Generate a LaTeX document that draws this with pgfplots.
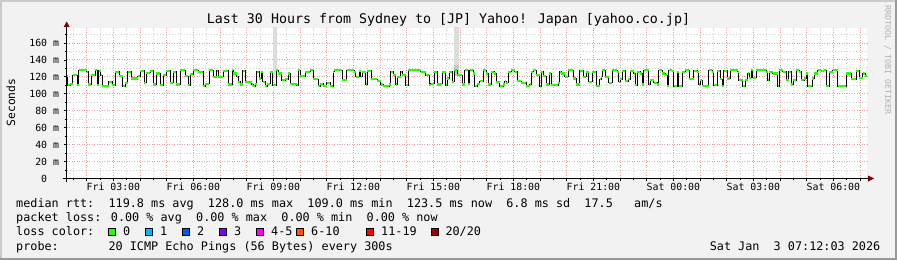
\documentclass[border=0pt]{standalone}
\usepackage{pgfplots}
\pgfplotsset{compat=1.18}
\usepackage{pgfplotstable}
\usepackage{fontspec}
\setmainfont{DejaVu Sans Mono}
\definecolor{bg}{HTML}{F2F2F2}
\definecolor{shadeA}{HTML}{CBCBCB}
\definecolor{shadeB}{HTML}{999999}
\definecolor{arrowred}{HTML}{7F0000}
\definecolor{mgrid}{HTML}{F09A9A}
\definecolor{ngrid}{HTML}{CFCFCF}
\definecolor{smoke}{HTML}{DDDDDD}
\definecolor{smokeb}{HTML}{C8C8C8}
\definecolor{medgreen}{HTML}{26FF00}
\definecolor{c1}{HTML}{00B8FF}
\definecolor{c2}{HTML}{0059FF}
\definecolor{c3}{HTML}{7E00FF}
\definecolor{c4}{HTML}{FF00FF}
\definecolor{c5}{HTML}{FF5500}
\definecolor{c6}{HTML}{FF0000}
\definecolor{c7}{HTML}{A10000}

\pgfplotstableread{
t v
1.25 121
1.29 110
1.38 112
1.48 122
1.64 110
1.70 128
2.00 126
2.05 111
2.17 122
2.32 128
2.39 110
2.45 127
2.52 122
2.58 109
2.83 114
2.95 110
3.07 126
3.22 121
3.35 109
3.45 113
3.54 126
3.67 118
3.91 121
4.00 127
4.16 113
4.23 125
4.38 127
4.49 111
4.60 124
4.75 110
4.86 122
4.98 127
5.13 113
5.24 126
5.35 111
5.50 128
5.69 121
5.80 110
5.88 123
5.99 128
6.18 126
6.37 109
6.44 112
6.60 128
6.75 120
6.88 127
6.94 120
7.12 127
7.31 111
7.46 128
7.50 124
7.63 120
7.69 114
7.75 111
7.85 127
7.94 114
8.19 111
8.25 109
8.31 112
8.38 126
8.47 118
8.54 126
8.60 114
8.69 109
8.77 112
8.88 126
8.98 110
9.10 128
9.19 124
9.31 116
9.44 117
9.56 124
9.63 112
9.88 110
9.94 128
10.00 121
10.19 126
10.38 128
10.50 117
10.69 109
10.75 112
10.87 109
11.00 113
11.13 109
11.25 126
11.28 128
11.59 116
11.75 128
12.03 126
12.09 120
12.21 127
12.28 120
12.34 126
12.46 111
12.52 127
12.67 117
12.90 115
13.03 111
13.12 109
13.34 111
13.40 126
13.50 122
13.59 111
13.65 120
13.78 126
13.84 122
13.96 110
14.05 128
14.53 126
14.71 122
14.84 110
14.90 112
15.03 126
15.15 111
15.28 112
15.34 126
15.46 110
15.52 118
15.59 126
15.71 114
15.78 128
15.90 122
16.09 111
16.18 128
16.30 112
16.36 128
16.49 124
16.55 109
16.65 112
16.74 115
16.86 128
16.99 124
17.05 111
17.17 126
17.28 124
17.36 114
17.49 109
17.61 111
17.68 115
17.74 113
17.80 126
17.92 128
18.05 126
18.15 115
18.30 113
18.49 109
18.61 111
18.67 126
18.74 128
18.86 122
18.99 109
19.05 126
19.11 121
19.24 111
19.34 124
19.42 110
19.68 113
19.74 126
19.80 124
19.93 120
20.05 128
20.24 118
20.36 111
20.49 127
20.61 120
20.74 126
20.83 114
20.95 126
21.11 109
21.24 117
21.30 120
21.33 128
21.45 120
21.58 113
21.70 128
21.89 126
21.95 114
22.01 117
22.08 127
22.20 115
22.30 117
22.39 127
22.51 124
22.57 110
22.64 126
22.76 124
22.83 111
22.89 128
23.08 111
23.14 116
23.26 113
23.39 111
23.45 128
23.58 124
23.70 122
23.76 109
23.83 128
23.95 127
24.01 109
24.14 126
24.20 109
24.33 126
24.45 128
24.60 117
24.76 127
24.89 126
24.95 111
25.01 116
25.08 109
25.33 128
25.45 126
25.51 110
25.64 127
25.76 117
25.83 109
25.89 127
26.01 118
26.14 128
26.41 126
26.45 116
26.60 109
26.70 116
26.79 124
26.85 119
26.91 128
26.98 119
27.10 128
27.48 126
27.54 116
27.60 126
27.73 124
27.91 109
27.97 128
28.10 126
28.23 116
28.33 126
28.41 111
28.50 116
28.60 128
28.72 126
28.79 116
28.91 118
28.98 124
29.04 109
29.20 118
29.29 124
29.41 128
29.54 127
29.66 128
29.73 109
29.85 126
29.98 128
30.16 109
30.48 124
30.66 117
30.85 127
30.97 119
31.10 124
31.20 121
31.26 121
}\med

\begin{document}
\begin{tikzpicture}
\fill[bg] (0,0) rectangle (897pt,260pt);
\useasboundingbox (0,0) rectangle (897pt,260pt);
\fill[shadeA] (0,258pt) rectangle (897pt,260pt);
\fill[shadeA] (0,0) rectangle (2pt,260pt);
\fill[shadeB] (0,0) rectangle (897pt,2pt);
\fill[shadeB] (895pt,0) rectangle (897pt,260pt);

\begin{axis}[
  at={(66.7pt,81.5pt)}, anchor=south west,
  scale only axis, width=800.3pt, height=150.8pt,
  xmin=1.25, xmax=31.26, ymin=0, ymax=178,
  axis line style={draw=none},
  axis background/.style={fill=white},
  xtick={3,6,...,30},
  xticklabels={Fri 03:00,Fri 06:00,Fri 09:00,Fri 12:00,Fri 15:00,Fri 18:00,Fri 21:00,Sat 00:00,Sat 03:00,Sat 06:00},
  extra x ticks={2,4,5,7,8,10,11,13,14,16,17,19,20,22,23,25,26,28,29,31},
  extra x tick labels={},
  minor xtick={1.5,2.5,...,30.5},
  ytick={0,20,...,160},
  yticklabels={0\phantom{~m},20 m,40 m,60 m,80 m,100 m,120 m,140 m,160 m},
  minor ytick={10,30,...,170},
  grid=both,
  major grid style={draw=mgrid, dash pattern=on 1pt off 1.5pt, line width=0.8pt},
  minor grid style={draw=ngrid, dash pattern=on 1pt off 2pt, line width=0.8pt},
  tick pos=left, tick align=outside,
  major tick length=3pt, minor tick length=2pt,
  tick style={black, line width=0.7pt},
  xticklabel style={font=\fontsize{9.85}{11}\selectfont, anchor=base, inner sep=0pt, yshift=-9pt},
  yticklabel style={font=\fontsize{9.85}{11}\selectfont, anchor=east, inner sep=0pt, xshift=-4.5pt},
]
\addplot[fill=smoke, draw=none] coordinates {(8.99,122) (8.99,200) (9.15,200) (9.15,122)} -- cycle;
\addplot[fill=smoke, draw=none] coordinates {(15.79,121) (15.79,200) (15.95,200) (15.95,121)} -- cycle;
\addplot[fill=smokeb, draw=none] coordinates {(15.79,121) (15.79,134) (15.95,134) (15.95,121)} -- cycle;
\addplot[black, line width=0.9pt, const plot] table[x=t,y=v]{\med};
\addplot[medgreen, line width=2.2pt, jump mark left] table[x=t,y=v]{\med};
\end{axis}

\draw[black, line width=1pt] (63.3pt,81.5pt) -- (868pt,81.5pt);
\fill[arrowred] (868pt,78.5pt) -- (874pt,81.5pt) -- (868pt,84.5pt) -- cycle;
\draw[black, line width=1pt] (66.7pt,78.3pt) -- (66.7pt,233pt);
\fill[arrowred] (63.7pt,233pt) -- (66.7pt,238.5pt) -- (69.7pt,233pt) -- cycle;

\node[font=\fontsize{13.3}{15}\selectfont, anchor=base] at (448.5pt,236pt) {Last 30 Hours from Sydney to [JP] Yahoo! Japan [yahoo.co.jp]};
\node[font=\fontsize{11.3}{13}\selectfont, anchor=base, rotate=90] at (15pt,157.5pt) {Seconds};
\node[font=\fontsize{8.3}{10}\selectfont, anchor=base, rotate=-90, text=black!30] at (885pt,200pt) {RRDTOOL / TOBI OETIKER};

\begin{scope}[every node/.style={font=\fontsize{11.8}{13}\selectfont, anchor=base west, inner sep=0pt}]
\node at (16pt,52.3pt) {median rtt:~~119.8 ms avg~~128.0 ms max~~109.0 ms min~~123.5 ms now~~6.8 ms sd~~17.5~~~am/s};
\node at (16pt,38.3pt) {packet loss: 0.00 \% avg~~0.00 \% max~~0.00 \% min~~0.00 \% now};
\node at (16pt,24.3pt) {loss color:};
\node at (16pt,10pt) {probe:~~~~~~~20 ICMP Echo Pings (56 Bytes) every 300s};
\node[anchor=base east] at (880.5pt,10pt) {Sat Jan~~3 07:12:03 2026};
\foreach \bx/\col/\lab in {108.7/medgreen/{0}, 145.7/c1/{1}, 182.7/c2/{2}, 219.7/c3/{3}, 256.7/c4/{4-5}, 296.7/c5/{6-10}, 366.7/c6/{11-19}, 431/c7/{20/20}}{
  \filldraw[fill=\col, draw=black, line width=0.8pt] (\bx pt,24.3pt) rectangle ++(7pt,7pt);
  \node at (\bx pt+14.3pt,24.3pt) {\lab};
}
\end{scope}
\end{tikzpicture}
\end{document}
